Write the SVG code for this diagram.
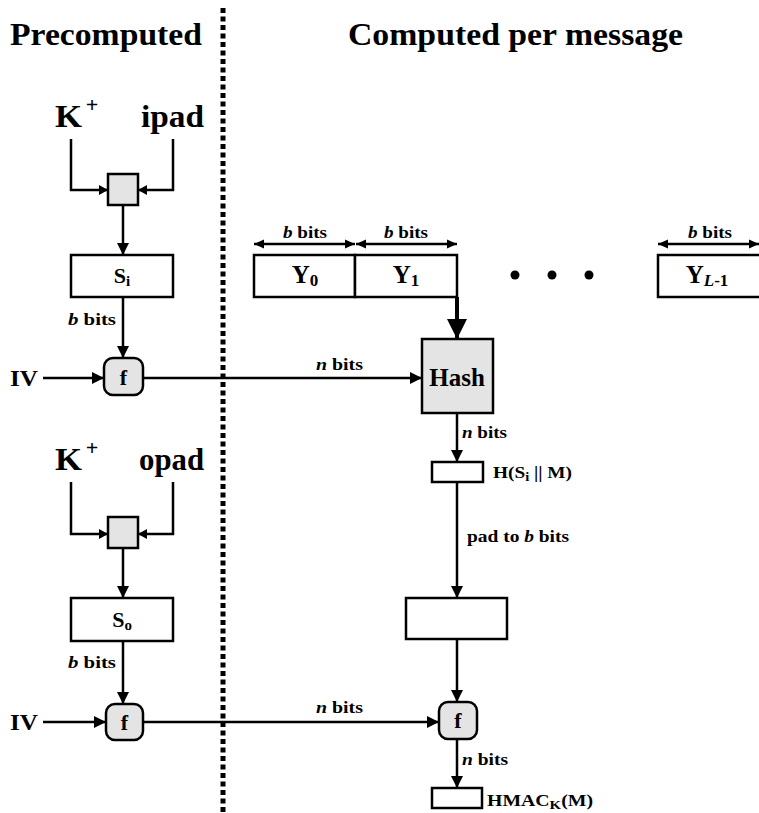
<svg xmlns="http://www.w3.org/2000/svg" width="759" height="813" viewBox="0 0 759 813">
<style>
text{font-family:"Liberation Serif","Times New Roman",serif;font-weight:bold;fill:#000}
.hd{font-size:32px}
.big{font-size:32px}
.lbl{font-size:16px}
.box{fill:#fff;stroke:#000;stroke-width:2.5}
.gbox{fill:#e4e4e4;stroke:#000;stroke-width:2.5}
.ln{fill:none;stroke:#000;stroke-width:2.5}
.arr{marker-end:url(#ah)}
.sarr{marker-end:url(#sh)}
.it{font-style:italic}
</style>
<defs>
<marker id="ah" markerUnits="userSpaceOnUse" markerWidth="13" markerHeight="12" refX="12" refY="6" orient="auto"><path d="M0,0 L12,6 L0,12 z" fill="#000"/></marker>
<marker id="sh" markerUnits="userSpaceOnUse" markerWidth="10" markerHeight="10" refX="9" refY="5" orient="auto"><path d="M0,0 L9,5 L0,10 z" fill="#000"/></marker>
<marker id="dh" markerUnits="userSpaceOnUse" markerWidth="10" markerHeight="10" refX="10" refY="5" orient="auto-start-reverse"><path d="M0,0.5 L10,5 L0,9.5 z" fill="#000"/></marker>
<marker id="th" markerUnits="userSpaceOnUse" markerWidth="22" markerHeight="22" refX="20" refY="10" orient="auto"><path d="M0,0 L20,10 L0,20 z" fill="#000"/></marker>
</defs>
<rect width="759" height="813" fill="#fff"/>

<g id="headers">
<text class="hd" x="10" y="45" textLength="192" lengthAdjust="spacingAndGlyphs">Precomputed</text>
<text class="hd" x="348" y="45" textLength="335" lengthAdjust="spacingAndGlyphs">Computed per message</text>
</g>

<g id="divider"><line x1="223" y1="8" x2="223" y2="813" stroke="#000" stroke-width="5" stroke-dasharray="5 3.5"/></g>

<g id="connectors">
<path class="ln sarr" d="M71,139 V190 H108"/>
<path class="ln sarr" d="M173,139 V190 H138"/>
<path class="ln arr" d="M123,205 V255"/>
<path class="ln arr" d="M123,297 V358"/>
<path class="ln arr" d="M43,378 H104"/>
<path class="ln arr" d="M143,378 H422"/>
<path d="M457,297 V339" fill="none" stroke="#000" stroke-width="4" marker-end="url(#th)"/>
<path class="ln arr" d="M457,413 V462"/>
<path class="ln arr" d="M457,482 V598"/>
<path class="ln arr" d="M457,639 V702"/>
<path class="ln arr" d="M457,739 V788"/>
<path class="ln sarr" d="M71,482 V534 H108"/>
<path class="ln sarr" d="M173,482 V534 H138"/>
<path class="ln arr" d="M123,548 V598"/>
<path class="ln arr" d="M123,641 V704"/>
<path class="ln arr" d="M43,722 H106"/>
<path class="ln arr" d="M143,722 H439"/>
<path d="M254,244 H355" fill="none" stroke="#000" stroke-width="2.5" marker-start="url(#dh)" marker-end="url(#dh)"/>
<path d="M356,244 H457" fill="none" stroke="#000" stroke-width="2.5" marker-start="url(#dh)" marker-end="url(#dh)"/>
<path d="M658,244 H759" fill="none" stroke="#000" stroke-width="2.5" marker-start="url(#dh)" marker-end="url(#dh)"/>
</g>

<g id="upper-inputs">
<text class="big" x="55" y="127" textLength="27" lengthAdjust="spacingAndGlyphs">K</text>
<text x="92" y="112" font-size="22" text-anchor="middle" font-weight="normal">+</text>
<text class="big" x="141" y="127" textLength="63" lengthAdjust="spacingAndGlyphs">ipad</text>
</g>
<g id="xor-i"><rect class="gbox" x="108" y="174" width="30" height="31"/></g>
<g id="Si"><rect class="box" x="71" y="255" width="102" height="42"/>
<text x="122" y="283" font-size="22" text-anchor="middle">S<tspan font-size="15" dy="3">i</tspan></text></g>
<text class="lbl" x="68" y="325" textLength="48" lengthAdjust="spacingAndGlyphs"><tspan class="it">b</tspan> bits</text>
<text x="10" y="386" font-size="24" textLength="28" lengthAdjust="spacingAndGlyphs">IV</text>
<g id="f1"><rect class="gbox" x="104" y="358" width="39" height="37" rx="9"/>
<text x="123.5" y="385" font-size="22" text-anchor="middle" font-weight="normal">f</text></g>
<text class="lbl" x="316" y="370" textLength="47" lengthAdjust="spacingAndGlyphs"><tspan class="it">n</tspan> bits</text>

<g id="blocks">
<rect class="box" x="254" y="255" width="101" height="42"/>
<rect class="box" x="355" y="255" width="102" height="42"/>
<rect class="box" x="658" y="255" width="106" height="42"/>
<text x="305" y="283" font-size="25" text-anchor="middle">Y<tspan font-size="17" dy="3">0</tspan></text>
<text x="406" y="283" font-size="25" text-anchor="middle">Y<tspan font-size="17" dy="3">1</tspan></text>
<text x="707" y="283" font-size="25" text-anchor="middle">Y<tspan font-size="17" dy="3"><tspan class="it">L</tspan>-1</tspan></text>
<text class="lbl" x="305" y="238" text-anchor="middle" textLength="44" lengthAdjust="spacingAndGlyphs"><tspan class="it">b</tspan> bits</text>
<text class="lbl" x="406" y="238" text-anchor="middle" textLength="44" lengthAdjust="spacingAndGlyphs"><tspan class="it">b</tspan> bits</text>
<text class="lbl" x="710" y="238" text-anchor="middle" textLength="44" lengthAdjust="spacingAndGlyphs"><tspan class="it">b</tspan> bits</text>
<circle cx="515" cy="275" r="4.5"/><circle cx="552" cy="275" r="4.5"/><circle cx="589" cy="275" r="4.5"/>
</g>

<g id="hash"><rect class="gbox" x="422" y="339" width="71" height="74"/>
<text x="457" y="386" font-size="25" text-anchor="middle">Hash</text></g>
<text class="lbl" x="462" y="438" textLength="45" lengthAdjust="spacingAndGlyphs"><tspan class="it">n</tspan> bits</text>
<g id="inner-hash"><rect class="box" x="432" y="462" width="51" height="20"/>
<text class="lbl" x="493" y="478" textLength="79" lengthAdjust="spacingAndGlyphs">H(S<tspan font-size="12" dy="3">i</tspan><tspan dy="-3"> || M)</tspan></text></g>
<text class="lbl" x="467" y="542" textLength="102" lengthAdjust="spacingAndGlyphs">pad to <tspan class="it">b</tspan> bits</text>
<g id="padded"><rect class="box" x="406" y="598" width="101" height="41"/></g>
<g id="f3"><rect class="gbox" x="439" y="702" width="38" height="37" rx="9"/>
<text x="458" y="728" font-size="22" text-anchor="middle" font-weight="normal">f</text></g>
<text class="lbl" x="462" y="765" textLength="46" lengthAdjust="spacingAndGlyphs"><tspan class="it">n</tspan> bits</text>
<g id="hmac"><rect class="box" x="432" y="788" width="50" height="20"/>
<text class="lbl" x="487" y="806" textLength="106" lengthAdjust="spacingAndGlyphs">HMAC<tspan font-size="12" dy="3">K</tspan><tspan dy="-3">(M)</tspan></text></g>

<g id="lower-inputs">
<text class="big" x="55" y="470" textLength="27" lengthAdjust="spacingAndGlyphs">K</text>
<text x="92" y="455" font-size="22" text-anchor="middle" font-weight="normal">+</text>
<text class="big" x="139" y="470" textLength="65" lengthAdjust="spacingAndGlyphs">opad</text>
</g>
<g id="xor-o"><rect class="gbox" x="108" y="517" width="30" height="31"/></g>
<g id="So"><rect class="box" x="71" y="598" width="102" height="43"/>
<text x="122" y="627" font-size="22" text-anchor="middle">S<tspan font-size="15" dy="3">o</tspan></text></g>
<text class="lbl" x="68" y="668" textLength="48" lengthAdjust="spacingAndGlyphs"><tspan class="it">b</tspan> bits</text>
<text x="10" y="730" font-size="24" textLength="28" lengthAdjust="spacingAndGlyphs">IV</text>
<g id="f2"><rect class="gbox" x="106" y="704" width="37" height="36" rx="9"/>
<text x="124.5" y="730" font-size="22" text-anchor="middle" font-weight="normal">f</text></g>
<text class="lbl" x="316" y="713" textLength="47" lengthAdjust="spacingAndGlyphs"><tspan class="it">n</tspan> bits</text>
</svg>
